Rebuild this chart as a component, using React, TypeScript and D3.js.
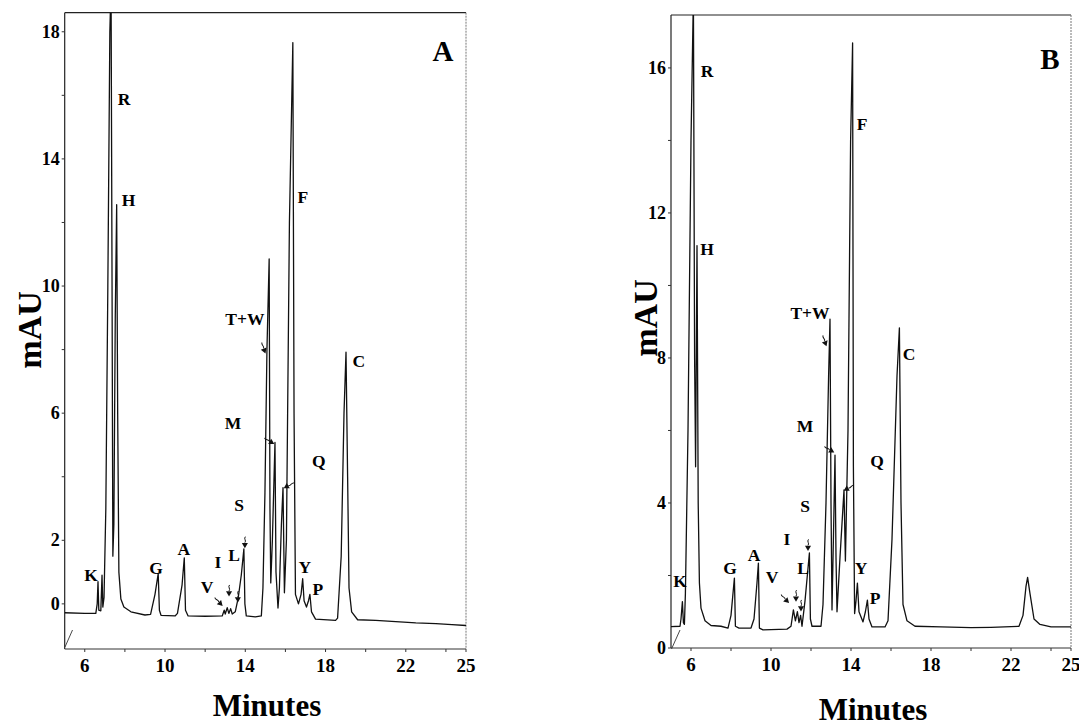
import React from 'react';
import * as d3 from 'd3';

// ---------- data (time in minutes, signal in mAU) ----------
const traceA: [number, number][] = [
  [5.0, -0.28], [6.0, -0.3], [6.55, -0.3], [6.62, 0.0], [6.66, 0.7], [6.7, -0.2], [6.8, -0.22],
  [6.86, 0.9], [6.9, -0.1], [6.96, 0.2], [7.05, 3.0], [7.15, 10], [7.25, 18], [7.31, 19.5],
  [7.36, 10], [7.4, 1.5], [7.45, 2.5], [7.52, 9], [7.59, 12.56], [7.64, 6], [7.7, 1.0],
  [7.8, 0.15], [7.95, -0.1], [8.3, -0.25], [9.0, -0.35], [9.28, -0.33], [9.5, 0.3], [9.66, 0.95],
  [9.72, -0.2], [9.8, -0.36], [10.5, -0.38], [10.62, -0.3], [10.85, 0.6], [10.96, 1.45],
  [11.02, -0.2], [11.15, -0.38], [12.0, -0.39], [12.85, -0.38], [12.95, -0.2], [13.0, -0.32],
  [13.1, -0.12], [13.18, -0.3], [13.27, -0.15], [13.35, -0.32], [13.5, -0.25], [13.65, 0.2],
  [13.8, 0.9], [13.93, 1.73], [13.98, 0.0], [14.05, -0.38], [14.5, -0.41], [14.8, -0.38],
  [14.88, 0.5], [14.98, 3.5], [15.08, 8.0], [15.19, 10.85], [15.23, 3.0], [15.27, 0.66],
  [15.35, 2.0], [15.48, 5.08], [15.53, 1.0], [15.63, -0.13], [15.7, 0.5], [15.8, 2.5],
  [15.88, 3.66], [15.95, 0.35], [16.05, 2.0], [16.2, 12], [16.37, 17.66], [16.43, 6],
  [16.5, 0.3], [16.65, 0.0], [16.78, 0.3], [16.86, 0.79], [16.93, 0.1], [17.05, -0.1],
  [17.15, 0.1], [17.22, 0.3], [17.3, -0.25], [17.5, -0.48], [18.5, -0.52], [18.6, -0.45],
  [18.78, 1.5], [18.92, 6.0], [19.02, 7.92], [19.1, 4.0], [19.17, 0.5], [19.3, -0.25],
  [19.6, -0.5], [20.5, -0.52], [21.5, -0.56], [22.5, -0.6], [23.5, -0.62], [24.3, -0.65],
  [25.0, -0.68],
];

const traceB: [number, number][] = [
  [5.0, 0.59], [5.45, 0.6], [5.5, 0.8], [5.57, 1.28], [5.62, 0.7], [5.67, 0.65], [5.72, 1.5],
  [5.85, 6], [6.0, 14], [6.12, 18], [6.18, 8], [6.23, 5], [6.3, 11.1], [6.36, 4], [6.42, 1.8],
  [6.5, 1.1], [6.7, 0.75], [7.0, 0.62], [7.5, 0.6], [7.85, 0.55], [8.0, 0.9], [8.17, 1.93],
  [8.22, 0.6], [8.4, 0.55], [9.0, 0.55], [9.15, 0.8], [9.3, 1.8], [9.37, 2.34], [9.42, 0.55],
  [9.6, 0.5], [10.8, 0.52], [11.0, 0.6], [11.12, 1.05], [11.22, 0.75], [11.32, 1.0], [11.4, 0.7],
  [11.48, 0.9], [11.55, 0.6], [11.7, 1.3], [11.85, 2.2], [11.92, 2.62], [11.97, 0.8], [12.05, 0.6],
  [12.5, 0.6], [12.6, 1.2], [12.75, 4.0], [12.88, 7.5], [12.95, 9.07], [13.0, 4], [13.05, 1.05],
  [13.12, 3.0], [13.2, 5.32], [13.25, 2.5], [13.3, 1.0], [13.45, 2.5], [13.65, 4.36], [13.72, 2.4],
  [13.85, 6], [13.98, 14], [14.08, 16.69], [14.12, 5], [14.18, 0.95], [14.25, 1.3], [14.32, 1.79],
  [14.4, 1.0], [14.6, 0.72], [14.72, 1.0], [14.82, 1.32], [14.9, 0.8], [15.05, 0.58], [15.7, 0.58],
  [15.85, 0.75], [16.05, 3.0], [16.3, 7.5], [16.42, 8.83], [16.5, 4.0], [16.6, 1.2], [16.8, 0.75],
  [17.2, 0.6], [18.5, 0.58], [20.0, 0.56], [21.0, 0.57], [22.4, 0.6], [22.6, 0.9], [22.75, 1.7],
  [22.83, 1.95], [22.95, 1.5], [23.15, 0.8], [23.45, 0.65], [24.0, 0.58], [25.0, 0.58],
];

const xTickValues = [6, 8, 10, 12, 14, 16, 18, 20, 22, 24, 25];
const xTickLabels = [6, 10, 14, 18, 22, 25];
const yTickValuesA = [0, 2, 4, 6, 8, 10, 12, 14, 16, 18];
const yTickLabelsA = [0, 2, 6, 10, 14, 18];
const yTickValuesB = [0, 2, 4, 6, 8, 10, 12, 14, 16];
const yTickLabelsB = [0, 4, 8, 12, 16];

type PeakLabel = { text: string; t: number; v: number };
const peakLabelsA: PeakLabel[] = [
  { text: 'R', t: 7.955, v: 15.9 }, { text: 'H', t: 8.18, v: 12.71 }, { text: 'F', t: 16.87, v: 12.79 },
  { text: 'K', t: 6.31, v: 0.91 }, { text: 'G', t: 9.55, v: 1.14 }, { text: 'A', t: 10.94, v: 1.73 },
  { text: 'V', t: 12.09, v: 0.54 }, { text: 'I', t: 12.64, v: 1.32 }, { text: 'L', t: 13.44, v: 1.55 },
  { text: 'T+W', t: 13.98, v: 8.96 }, { text: 'M', t: 13.39, v: 5.68 }, { text: 'S', t: 13.69, v: 3.12 },
  { text: 'Q', t: 17.67, v: 4.51 }, { text: 'Y', t: 16.97, v: 1.17 }, { text: 'P', t: 17.62, v: 0.47 },
  { text: 'C', t: 19.66, v: 7.63 },
];
const peakLabelsB: PeakLabel[] = [
  { text: 'R', t: 6.8, v: 15.92 }, { text: 'H', t: 6.8, v: 11.01 }, { text: 'F', t: 14.55, v: 14.46 },
  { text: 'K', t: 5.45, v: 1.85 }, { text: 'G', t: 7.95, v: 2.21 }, { text: 'A', t: 9.15, v: 2.57 },
  { text: 'V', t: 10.05, v: 1.96 }, { text: 'I', t: 10.8, v: 3.01 }, { text: 'L', t: 11.6, v: 2.21 },
  { text: 'T+W', t: 11.95, v: 9.24 }, { text: 'M', t: 11.7, v: 6.12 }, { text: 'S', t: 11.7, v: 3.92 },
  { text: 'Q', t: 15.3, v: 5.16 }, { text: 'Y', t: 14.5, v: 2.21 }, { text: 'P', t: 15.2, v: 1.38 },
  { text: 'C', t: 16.9, v: 8.11 },
];

type Arrow = { t: number; v: number; angle: number };
const arrowsA: Arrow[] = [
  { t: 12.82, v: -0.03, angle: -45 }, { t: 13.19, v: 0.28, angle: 0 }, { t: 13.63, v: 0.09, angle: 0 },
  { t: 13.98, v: 1.8, angle: 0 }, { t: 14.98, v: 7.92, angle: -20 }, { t: 15.38, v: 5.05, angle: -60 },
  { t: 15.98, v: 3.66, angle: 60 },
];
const arrowsB: Arrow[] = [
  { t: 10.85, v: 1.27, angle: -45 }, { t: 11.25, v: 1.32, angle: 0 }, { t: 11.5, v: 1.05, angle: 0 },
  { t: 11.85, v: 2.72, angle: 0 }, { t: 12.75, v: 8.36, angle: -20 }, { t: 13.1, v: 5.41, angle: -60 },
  { t: 13.7, v: 4.36, angle: 60 },
];

const panelLetters = ['A', 'B'];
const yAxisTitle = 'mAU';
const xAxisTitle = 'Minutes';

// ---------- layout ----------
const FONT = '"Liberation Serif", "Times New Roman", Times, serif';

const layouts = [
  { left: 64.7, right: 466, top: 12.7, bottom: 649, yDomain: [-1.42, 18.6], letterAt: [23.85, 17.38],
    yTitle: [29, 330], xTitle: [267, 716], slash: [[65, 647], [72.5, 630]] },
  { left: 671, right: 1071, top: 15, bottom: 648, yDomain: [0, 17.46], letterAt: [23.95, 16.25],
    yTitle: [645, 318], xTitle: [873, 720], slash: [[671.5, 649], [680, 630]] },
];

const panelData = [
  { trace: traceA, yTicks: yTickValuesA, yLabels: yTickLabelsA, peaks: peakLabelsA, arrows: arrowsA },
  { trace: traceB, yTicks: yTickValuesB, yLabels: yTickLabelsB, peaks: peakLabelsB, arrows: arrowsB },
];

function Panel({ idx }: { idx: number }) {
  const L = layouts[idx];
  const D = panelData[idx];
  const x = d3.scaleLinear().domain([5, 25]).range([L.left, L.right]);
  const y = d3.scaleLinear().domain(L.yDomain).range([L.bottom, L.top]);
  const line = d3.line<[number, number]>().x((d) => x(d[0])).y((d) => y(d[1])).curve(d3.curveLinear);
  const clipId = `clip-${idx}`;
  const tri = d3.symbol().type(d3.symbolTriangle).size(16)();
  return (
    <g>
      <defs>
        <clipPath id={clipId}>
          <rect x={L.left} y={L.top} width={L.right - L.left} height={L.bottom - L.top} />
        </clipPath>
      </defs>
      {/* frame */}
      <line x1={L.left} x2={L.right} y1={L.top} y2={L.top} stroke="#222" strokeWidth={1.2} />
      <line x1={L.left} x2={L.left} y1={L.top} y2={L.bottom} stroke="#222" strokeWidth={1.2} />
      <line x1={L.left} x2={L.right} y1={L.bottom} y2={L.bottom} stroke="#333" strokeWidth={1} />
      <line x1={L.right} x2={L.right} y1={L.top} y2={L.bottom} stroke="#777" strokeWidth={1} strokeDasharray="2,1" />
      <line x1={L.slash[0][0]} y1={L.slash[0][1]} x2={L.slash[1][0]} y2={L.slash[1][1]} stroke="#333" strokeWidth={0.9} />
      {/* y ticks */}
      {D.yTicks.map((v) => (
        <line key={'yt' + v} x1={L.left - 3} x2={L.left} y1={y(v)} y2={y(v)} stroke="#333" strokeWidth={1} />
      ))}
      {D.yLabels.map((v) => (
        <text key={'yl' + v} x={L.left - 5} y={y(v)} textAnchor="end" dominantBaseline="central"
          fontFamily={FONT} fontWeight="bold" fontSize={18}>{v}</text>
      ))}
      {/* x ticks */}
      {xTickValues.map((t) => (
        <line key={'xt' + t} x1={x(t)} x2={x(t)} y1={L.bottom} y2={L.bottom + 3} stroke="#333" strokeWidth={1} />
      ))}
      {xTickLabels.map((t) => (
        <text key={'xl' + t} x={x(t)} y={L.bottom + 23} textAnchor="middle"
          fontFamily={FONT} fontWeight="bold" fontSize={19}>{t}</text>
      ))}
      {/* trace */}
      <path d={line(D.trace) || ''} fill="none" stroke="#111" strokeWidth={1.3} strokeLinejoin="round" clipPath={`url(#${clipId})`} />
      {/* peak labels */}
      {D.peaks.map((p, i) => (
        <text key={'pk' + i} x={x(p.t)} y={y(p.v)} textAnchor="middle" dominantBaseline="central"
          fontFamily={FONT} fontWeight="bold" fontSize={17.5}>{p.text}</text>
      ))}
      {/* arrows */}
      {D.arrows.map((a, i) => (
        <g key={'ar' + i} transform={`translate(${x(a.t)},${y(a.v)}) rotate(${a.angle})`}>
          <path d="M0,-4 C1.8,-6 -1.5,-8 0.5,-10" fill="none" stroke="#111" strokeWidth={1} />
          <path d={tri || ''} transform="translate(0,-2) rotate(180)" fill="#111" />
        </g>
      ))}
      {/* panel letter */}
      <text x={x(L.letterAt[0])} y={y(L.letterAt[1])} textAnchor="middle" dominantBaseline="central"
        fontFamily={FONT} fontWeight="bold" fontSize={29}>{panelLetters[idx]}</text>
      {/* axis titles */}
      <text transform={`translate(${L.yTitle[0]},${L.yTitle[1]}) rotate(-90)`} textAnchor="middle"
        dominantBaseline="central" fontFamily={FONT} fontWeight="bold" fontSize={34}>{yAxisTitle}</text>
      <text x={L.xTitle[0]} y={L.xTitle[1]} textAnchor="middle"
        fontFamily={FONT} fontWeight="bold" fontSize={31}>{xAxisTitle}</text>
    </g>
  );
}

export default function App() {
  return (
    <svg width={1079} height={728} viewBox="0 0 1079 728"
      style={{ position: 'absolute', left: 0, top: 0, background: '#fff', display: 'block' }}>
      <rect x={0} y={0} width={1079} height={728} fill="#fff" />
      <Panel idx={0} />
      <Panel idx={1} />
    </svg>
  );
}
